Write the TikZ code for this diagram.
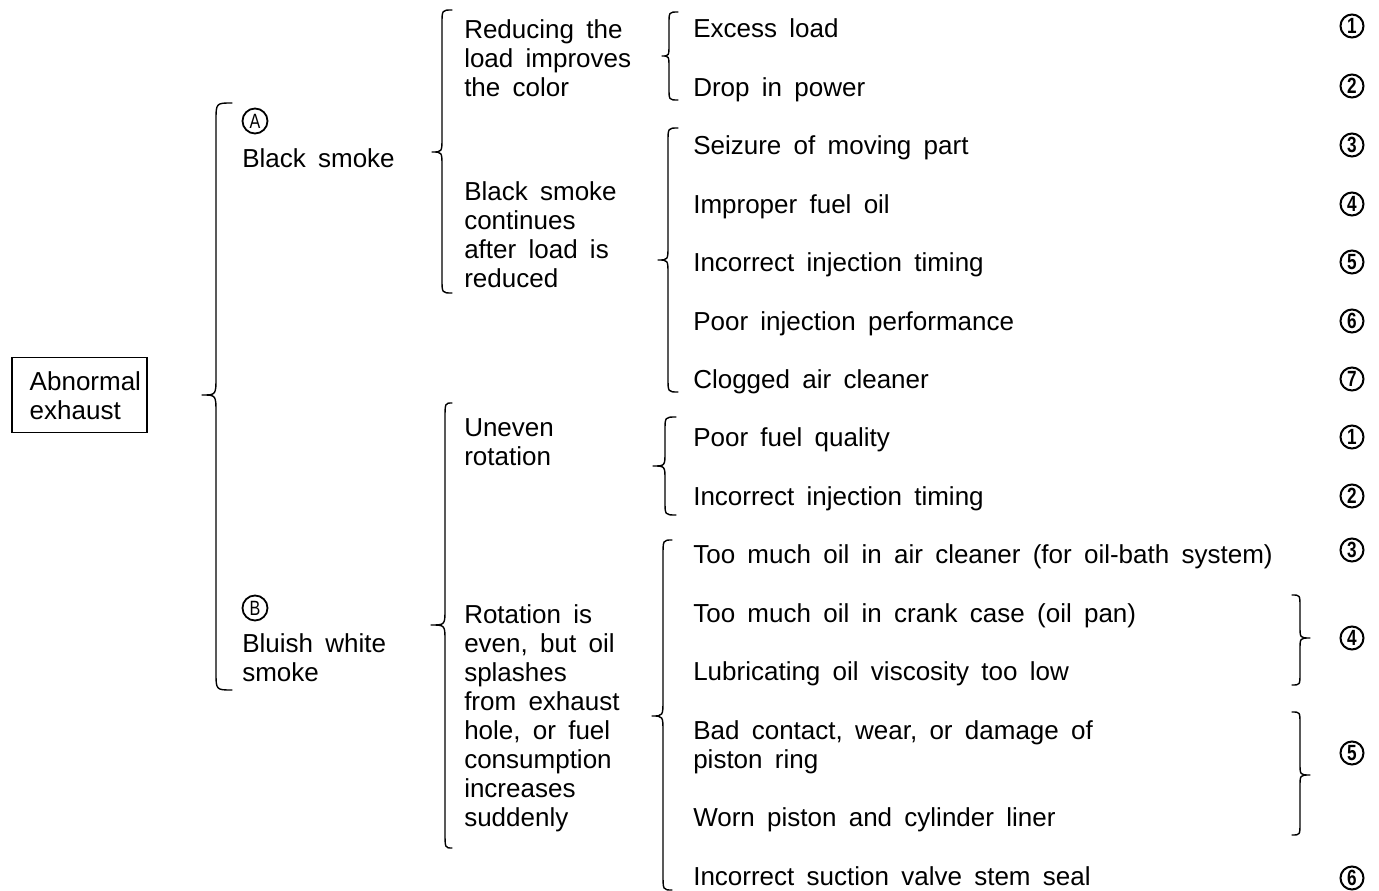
\documentclass[tikz,border=0pt]{standalone}
\usepackage{fontspec}
\setmainfont{Liberation Sans}[WordSpace=1.7]
\newfontfamily\numfont{Liberation Sans}[FakeStretch=0.78]
\newdimen\px \px=0.75pt
% xe xs xt yT yM yB r
\newcommand\mybrace[7]{%
 \draw[bracestroke] (#1,#4) .. controls (#2,#4) .. (#2,#4+#7) -- (#2,#5-#7)
   .. controls (#2,#5) .. (#3,#5) .. controls (#2,#5) .. (#2,#5+#7)
   -- (#2,#6-#7) .. controls (#2,#6) .. (#1,#6);}
\begin{document}
\begin{tikzpicture}[x=0.75pt,y=-0.75pt,
  txt/.style={anchor=base west, inner sep=0pt, align=left,
    font=\fontsize{19.5}{21.75}\selectfont},
  bracestroke/.style={line width=1.4\px, line cap=round, line join=round},
  cnum/.style={circle, draw, line width=2\px, minimum size=23\px, inner sep=0pt,
    font=\numfont\bfseries\fontsize{16.5}{16.5}\selectfont},
  clet/.style={circle, draw, line width=1.8\px, minimum size=25\px, inner sep=0pt,
    font=\numfont\fontsize{15.5}{15.5}\selectfont},
  boxnode/.style={draw, line width=1.5\px, align=left, anchor=north west,
    text width=99\px, inner xsep=18\px, inner ysep=0pt, minimum height=75\px,
    font=\fontsize{19.5}{21.75}\selectfont}]
\useasboundingbox (0,0) rectangle (1379,891);

% root
\node[boxnode] (abn) at (11,357) {Abnormal\\exhaust};

% level 1
\node[clet] (ca) at (255,121) {A};
\node[txt] (blk) at (242,167.5) {Black smoke};
\node[clet] (cb) at (255,608) {B};
\node[txt] (blu) at (242,681.5) {Bluish white\\smoke};

% level 2 (base anchor = last line baseline)
\node[txt] (red) at (464,96.5) {Reducing the\\load improves\\the color};
\node[txt] (bsc) at (464,287.5) {Black smoke\\continues\\after load is\\reduced};
\node[txt] (une) at (464,465.5) {Uneven\\rotation};
\node[txt] (rot) at (464,826.5) {Rotation is\\even, but oil\\splashes\\from exhaust\\hole, or fuel\\consumption\\increases\\suddenly};

% level 3
\node[txt] (i1) at (693,37.5) {Excess load};
\node[txt] (i2) at (693,96.5) {Drop in power};
\node[txt] (i3) at (693,154.5) {Seizure of moving part};
\node[txt] (i4) at (693,213.5) {Improper fuel oil};
\node[txt] (i5) at (693,271.5) {Incorrect injection timing};
\node[txt] (i6) at (693,330.5) {Poor injection performance};
\node[txt] (i7) at (693,388.5) {Clogged air cleaner};
\node[txt] (j1) at (693,446.5) {Poor fuel quality};
\node[txt] (j2) at (693,505.5) {Incorrect injection timing};
\node[txt] (j3) at (693,563.5) {Too much oil in air cleaner (for oil-bath system)};
\node[txt] (j4) at (693,622.5) {Too much oil in crank case (oil pan)};
\node[txt] (j5) at (693,680.5) {Lubricating oil viscosity too low};
\node[txt] (j6) at (693,768.5) {Bad contact, wear, or damage of\\piston ring};
\node[txt] (j7) at (693,826.5) {Worn piston and cylinder liner};
\node[txt] (j8) at (693,885.5) {Incorrect suction valve stem seal};

% circled numbers
\node[cnum] (n1) at (1352,26) {1};
\node[cnum] (n2) at (1352,86) {2};
\node[cnum] (n3) at (1352,145) {3};
\node[cnum] (n4) at (1352,204) {4};
\node[cnum] (n5) at (1352,262) {5};
\node[cnum] (n6) at (1352,321) {6};
\node[cnum] (n7) at (1352,379) {7};
\node[cnum] (m1) at (1352,437) {1};
\node[cnum] (m2) at (1352,496) {2};
\node[cnum] (m3) at (1352,550) {3};
\node[cnum] (m4) at (1352,638) {4};
\node[cnum] (m5) at (1352,753) {5};
\node[cnum] (m6) at (1352,878) {6};

% braces
\mybrace{232}{216}{202}{103}{395}{690}{18}
\mybrace{452}{442}{432}{10}{152}{293}{14}
\mybrace{678}{669}{662}{12}{56}{100}{12}
\mybrace{678}{668}{658}{128}{260}{392}{14}
\mybrace{452}{445}{431}{403}{625}{848}{16}
\mybrace{676}{665}{653}{417}{466}{515}{14}
\mybrace{672}{663}{652}{540}{716}{890}{16}
\mybrace{1292}{1300}{1310}{595}{638}{685}{12}
\mybrace{1292}{1300}{1310}{712}{775}{835}{12}
\end{tikzpicture}
\end{document}
